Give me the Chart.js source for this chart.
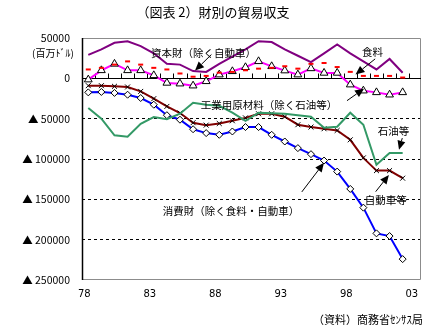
<!DOCTYPE html>
<html>
<head>
<meta charset="utf-8">
<script src="https://cdn.jsdelivr.net/npm/chart.js@4"></script>
<style>
html, body { margin: 0; padding: 0; background: #fff; }
#wrap { width: 429px; height: 335px; position: relative; }
</style>
</head>
<body>
<div id="wrap"><canvas id="trade"></canvas></div>
<script>
// 財別の貿易収支 (百万ドル), 1978-2002
const years = [1978, 1979, 1980, 1981, 1982, 1983, 1984, 1985, 1986, 1987, 1988, 1989, 1990,
    1991, 1992, 1993, 1994, 1995, 1996, 1997, 1998, 1999, 2000, 2001, 2002];
const capitalGoods = [29000, 36000, 44000, 46000, 40000, 31000, 18000, 17000, 9000, 8000, 18000, 27000, 36000,
    46000, 45000, 36000, 28000, 20000, 31000, 42000, 31000, 21000, 11000, 24000, 7000];
const food = [11000, 13000, 17000, 21000, 17000, 13000, 11000, 6000, 2000, 3000, 7000, 8000, 10000,
    12000, 13000, 15000, 12000, 18000, 19000, 14000, 8000, 3000, 3000, 3000, 1000];
const industrialSupplies = [-1600, 9900, 17900, 9900, 9900, 3700, -5700, -6600, -9100, -3700, 4600, 8700, 13700,
    21100, 14900, 9600, 4600, 12300, 6700, 6700, -7800, -15300, -17400, -20300, -17400];
const autos = [-9100, -9100, -9900, -10700, -16200, -25200, -34800, -43000, -55000, -58000, -56000, -52600, -49000,
    -43900, -43900, -47600, -57500, -60400, -62500, -64600, -76200, -98600, -114400, -114400, -123800];
const consumerGoods = [-17400, -16900, -18100, -20300, -24400, -32700, -45700, -51300, -63100, -67900, -70000, -65900, -60400,
    -60400, -70000, -78300, -86500, -94000, -101900, -115600, -137100, -160300, -192200, -195500, -224100];
const petroleum = [-36800, -50100, -70600, -72500, -56300, -48000, -50700, -43900, -30200, -32700, -34000, -42600, -52600,
    -42600, -43300, -43900, -45700, -47600, -61300, -60000, -42600, -57500, -107200, -92700, -92700];

const yTicks = [50000, 0, -50000, -100000, -150000, -200000, -250000];
const yearTicks = [1978, 1983, 1988, 1993, 1998, 2003];

// labels and arrows, placed in data units (year, 百万ドル)
const labels = [
    { text: "資本財（除く自動車）", x: 1986.8, y: 31500 },
    { text: "食料", x: 1999.7, y: 33000 },
    { text: "工業用原材料（除く石油等）", x: 1991.8, y: -32500 },
    { text: "石油等", x: 2001.3, y: -65000 },
    { text: "自動車等", x: 2000.7, y: -151000 },
    { text: "消費財（除く食料・自動車）", x: 1988.9, y: -164500 },
];
const arrows = [
    { from: [1987.4, 29500], to: [1986.15, 9600] },
    { from: [1999.9, 24100], to: [1998.4, 4600] },
    { from: [1997.75, -27700], to: [1999.05, -12800] },
    { from: [2001.97, -74100], to: [2001.72, -88600] },
    { from: [1999.94, -140500], to: [2000.95, -119700] },
    { from: [1994.3, -140800], to: [1995.99, -104800] },
];

const jp = "'Noto Sans CJK JP', 'DejaVu Sans', sans-serif";

function series(values) {
    return values.map((v, i) => ({ x: years[i], y: v }));
}

function drawArrow(ctx, x1, y1, x2, y2) {
    const ang = Math.atan2(y2 - y1, x2 - x1);
    const len = 9, half = 4;
    const bx = x2 - len * Math.cos(ang), by = y2 - len * Math.sin(ang);
    ctx.beginPath();
    ctx.moveTo(x1, y1);
    ctx.lineTo(bx, by);
    ctx.stroke();
    ctx.beginPath();
    ctx.moveTo(x2, y2);
    ctx.lineTo(bx + half * Math.sin(ang), by - half * Math.cos(ang));
    ctx.lineTo(bx - half * Math.sin(ang), by + half * Math.cos(ang));
    ctx.closePath();
    ctx.fill();
}

const framePlugin = {
    id: "frame",
    beforeDatasetsDraw(chart) {
        const { ctx, chartArea: a, scales } = chart;
        const x = scales.x, y = scales.y;
        ctx.save();
        ctx.strokeStyle = "#8c8c8c";
        ctx.lineWidth = 1;
        ctx.beginPath();
        ctx.moveTo(a.left, a.top + 0.5);
        ctx.lineTo(a.right - 0.5, a.top + 0.5);
        ctx.lineTo(a.right - 0.5, a.bottom - 0.5);
        ctx.lineTo(a.left, a.bottom - 0.5);
        ctx.stroke();

        // solid left axis
        ctx.strokeStyle = "#000";
        ctx.lineWidth = 1.5;
        ctx.beginPath();
        ctx.moveTo(a.left + 0.5, a.top);
        ctx.lineTo(a.left + 0.5, a.bottom);
        ctx.stroke();

        // zero line with small year marks
        const y0 = Math.round(y.getPixelForValue(0)) + 0.5;
        ctx.lineWidth = 1.2;
        ctx.beginPath();
        ctx.moveTo(a.left, y0);
        ctx.lineTo(a.right, y0);
        ctx.stroke();
        ctx.lineWidth = 1;
        ctx.beginPath();
        for (let yr = years[0] + 0.5; yr < years[years.length - 1] + 1; yr++) {
            const px = Math.round(x.getPixelForValue(yr)) + 0.5;
            ctx.moveTo(px, y0);
            ctx.lineTo(px, y0 - 5);
        }
        ctx.stroke();
        ctx.restore();
    },
    afterDraw(chart) {
        const { ctx, scales } = chart;
        const x = scales.x, y = scales.y;
        ctx.save();
        ctx.fillStyle = "#000";
        ctx.textBaseline = "middle";

        ctx.textAlign = "center";
        ctx.font = "13px " + jp;
        ctx.fillText("（図表 2）財別の貿易収支", 213, 12);

        ctx.font = "10px " + jp;
        ctx.textAlign = "left";
        ctx.fillText("(百万ﾄﾞﾙ)", 32, 53);

        ctx.font = "11px " + jp;
        ctx.textAlign = "right";
        ctx.fillText("（資料）商務省ｾﾝｻｽ局", 423, 320);

        ctx.textAlign = "center";
        ctx.font = "10.5px " + jp;
        labels.forEach((l) => {
            ctx.fillText(l.text, x.getPixelForValue(l.x), y.getPixelForValue(l.y));
        });

        ctx.strokeStyle = "#000";
        ctx.lineWidth = 1;
        arrows.forEach((ar) => {
            drawArrow(ctx,
                x.getPixelForValue(ar.from[0]), y.getPixelForValue(ar.from[1]),
                x.getPixelForValue(ar.to[0]), y.getPixelForValue(ar.to[1]));
        });
        ctx.restore();
    },
};

new Chart(document.getElementById("trade"), {
    type: "line",
    data: {
        datasets: [
            {
                label: "資本財",
                data: series(capitalGoods),
                borderColor: "#800080",
                borderWidth: 2,
                pointRadius: 0,
            },
            {
                label: "食料",
                data: series(food),
                showLine: false,
                pointStyle: "line",
                pointRadius: 2.5,
                borderColor: "#ff0000",
                pointBorderWidth: 2,
            },
            {
                label: "工業用原材料",
                data: series(industrialSupplies),
                borderColor: "#ff00ff",
                borderWidth: 2,
                pointStyle: "triangle",
                pointRadius: 4.5,
                pointBackgroundColor: "#fff",
                pointBorderColor: "#000",
                pointBorderWidth: 1,
            },
            {
                label: "石油等",
                data: series(petroleum),
                borderColor: "#339966",
                borderWidth: 2,
                pointRadius: 0,
            },
            {
                label: "自動車等",
                data: series(autos),
                borderColor: "#800000",
                borderWidth: 2,
                pointStyle: "crossRot",
                pointRadius: 3.5,
                pointBorderColor: "#000",
                pointBorderWidth: 1,
            },
            {
                label: "消費財",
                data: series(consumerGoods),
                borderColor: "#0000ff",
                borderWidth: 2,
                pointStyle: "rectRot",
                pointRadius: 3.5,
                pointBackgroundColor: "#fff",
                pointBorderColor: "#000",
                pointBorderWidth: 1,
            },
        ],
    },
    options: {
        responsive: true,
        maintainAspectRatio: false,
        animation: false,
        layout: { padding: { top: 38, right: 8, bottom: 33, left: 0 } },
        elements: { line: { tension: 0 } },
        plugins: {
            legend: { display: false },
            tooltip: { enabled: false },
        },
        scales: {
            x: {
                type: "linear",
                min: 1977.52,
                max: 2003.4,
                afterBuildTicks: (scale) => {
                    scale.ticks = yearTicks.map((v) => ({ value: v - 0.3 }));
                },
                afterFit: (scale) => {
                    scale.height = 22;
                },
                grid: { display: false, drawTicks: false },
                border: { display: false },
                ticks: {
                    padding: 8,
                    color: "#000",
                    font: { family: "'DejaVu Sans'", size: 10 },
                    maxRotation: 0,
                    callback: (v) => String(Math.round(v) % 100).padStart(2, "0"),
                },
            },
            y: {
                min: -250000,
                max: 50000,
                afterBuildTicks: (scale) => {
                    scale.ticks = yTicks.map((v) => ({ value: v }));
                },
                afterFit: (scale) => {
                    scale.width = 82;
                },
                grid: {
                    drawTicks: false,
                    color: (c) => {
                        const v = c.tick && c.tick.value;
                        return v === 0 || v === 50000 || v === -250000 ? "rgba(0,0,0,0)" : "#000";
                    },
                    lineWidth: 1,
                },
                border: { display: false, dash: [3, 3] },
                ticks: {
                    padding: 12,
                    color: "#000",
                    font: { family: jp, size: 10.5 },
                    callback: (v) => (v < 0 ? "▲ " + (-v) : String(v)),
                },
            },
        },
    },
    plugins: [framePlugin],
});
</script>
</body>
</html>
